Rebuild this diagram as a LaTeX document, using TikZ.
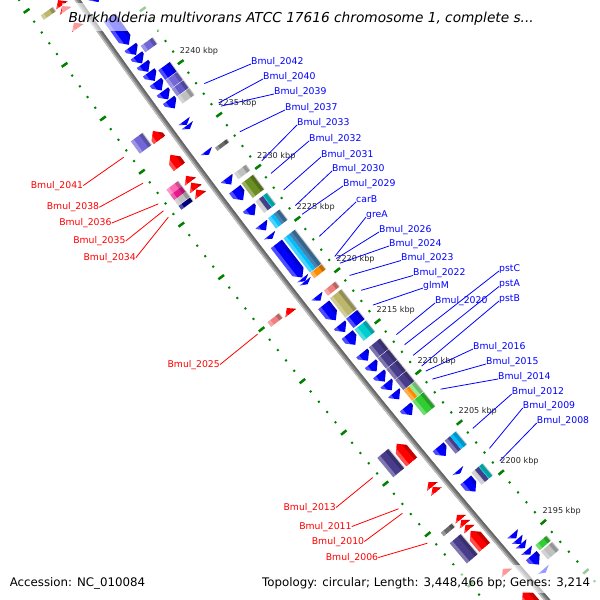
\documentclass[tikz,border=0pt]{standalone}
\usepackage{fontspec}
\newfontfamily\djv{DejaVu Sans}[ItalicFont={DejaVu Sans Oblique}]
\definecolor{rgreen}{RGB}{0,130,0}
\definecolor{slateA}{RGB}{115,103,215}
\definecolor{slateB}{RGB}{100,90,200}
\definecolor{slateD}{RGB}{72,61,139}
\definecolor{lgray}{RGB}{192,192,192}
\definecolor{dgray}{RGB}{105,105,105}
\definecolor{olived}{RGB}{107,142,35}
\definecolor{khakid}{RGB}{189,183,107}
\definecolor{orangeC}{RGB}{255,140,0}
\definecolor{coralL}{RGB}{240,128,128}
\definecolor{turq}{RGB}{0,206,209}
\definecolor{skyb}{RGB}{0,191,255}
\definecolor{steelb}{RGB}{70,130,180}
\definecolor{limeg}{RGB}{50,205,50}
\definecolor{lgreen}{RGB}{144,238,144}
\definecolor{hpink}{RGB}{255,105,180}
\definecolor{dpink}{RGB}{230,25,140}
\definecolor{navyC}{RGB}{0,0,128}
\definecolor{bbg}{RGB}{135,135,135}
% genome coordinate system: (g cs: kbp, radial offset in px from the labelled ruler)
\def\gmparse#1,#2\relax{%
  \pgfmathsetmacro\gms{13.0191+(#2)*0.0018221}%
  \pgfmathsetmacro\gmb{((#1)-2217.5)*\gms}%
  \pgfmathsetmacro\gmdel{\gmb/(7145+(#2))}%
  \pgfmathsetmacro\gma{(#2)-\gmb*\gmdel/2}%
  \pgfmathsetmacro\gmbb{\gmb*(1-\gmdel*\gmdel/6)}%
  \pgfmathsetmacro\gmx{357.33-0.785328*\gma-0.619080*\gmbb}%
  \pgfmathsetmacro\gmy{295.83+0.619080*\gma-0.785328*\gmbb}%
  \pgfpointxy{\gmx}{\gmy}}
\tikzdeclarecoordinatesystem{g}{\gmparse#1\relax}
\newcommand\gmband[5]{\fill[#5] (g cs:#1,#3) -- (g cs:#2,#3) -- (g cs:#2,#4) -- (g cs:#1,#4) -- cycle;}
\newcommand\gmshade[3]{%
  \fill[white,opacity=.3] (g cs:#1,#3+3.5) -- (g cs:#2,#3+3.5) -- (g cs:#2,#3+8) -- (g cs:#1,#3+8) -- cycle;
  \fill[black,opacity=.22] (g cs:#1,#3-8) -- (g cs:#2,#3-8) -- (g cs:#2,#3-3.5) -- (g cs:#1,#3-3.5) -- cycle;}
\newcommand\gmbox[4]{\gmband{#1}{#2}{#3-7}{#3+7}{#4}\gmshade{#1}{#2}{#3}}
\newcommand\gmsplit[5]{\gmband{#1}{#2}{#3}{#3+7}{#4}\gmband{#1}{#2}{#3-7}{#3}{#5}\gmshade{#1}{#2}{#3}}
\newcommand\gmtri[6]{\gmband{#1}{#2}{#3+2.4}{#3+7}{#4}\gmband{#1}{#2}{#3-2.4}{#3+2.4}{#5}\gmband{#1}{#2}{#3-7}{#3-2.4}{#6}\gmshade{#1}{#2}{#3}}
\newcommand\gmarrow[4]{%
  \pgfmathsetmacro\gmH{min(0.55,abs((#2)-(#1)))}%
  \pgfmathsetmacro\gmBk{(#2)-((#2)>(#1)?1:-1)*\gmH}%
  \begin{scope}
  \clip (g cs:#1,#3-7) -- (g cs:\gmBk,#3-7) -- (g cs:#2,#3) -- (g cs:\gmBk,#3+7) -- (g cs:#1,#3+7) -- cycle;
  \gmband{#1}{#2}{#3-8}{#3+8}{#4}\gmshade{#1}{#2}{#3}
  \end{scope}}
\tikzset{
  lblB/.style={font=\djv\fontsize{9.3}{11}\selectfont, text=blue, inner sep=0pt, anchor=base west},
  lblR/.style={font=\djv\fontsize{9.3}{11}\selectfont, text=red, inner sep=0pt, anchor=base east},
  kbpl/.style={font=\djv\fontsize{8.1}{10}\selectfont, text=black!85, inner sep=0pt, anchor=west},
  lnB/.style={draw=blue, line width=0.8pt},
  lnR/.style={draw=red, line width=0.8pt},
  info/.style={font=\djv\fontsize{11.8}{14}\selectfont, inner sep=0pt, anchor=base west},
  band/.style={fill=white, opacity=0.6}
}
\begin{document}
\begin{tikzpicture}[x=1pt,y=-1pt]
\useasboundingbox (0,0) rectangle (600,600);
\fill[white] (0,0) rectangle (600,600);
\begin{scope}
\clip (0,0) rectangle (600,600);
% rulers
\foreach \r in {0,96} {
  \foreach \k in {2180,...,2262} \draw[rgreen, line width=2pt] (g cs:\k,\r-1) -- (g cs:\k,\r+1);
  \foreach \k in {2180,2185,...,2260} \draw[rgreen, line width=2.5pt] (g cs:\k,\r-3.5) -- (g cs:\k,\r+3.5);
}
\foreach \k in {2195,2200,...,2240} \node[kbpl, xshift=-1pt, yshift=11pt] (k\k) at (g cs:\k,0) {\k\ kbp};
% backbone
\draw[line width=5pt, bbg] (g cs:2262,48) \foreach \k in {2258,2254,...,2178} {-- (g cs:\k,48)};
\draw[line width=1.6pt, black!60] (g cs:2262,46.4) \foreach \k in {2258,2254,...,2178} {-- (g cs:\k,46.4)};
\draw[line width=1.3pt, black!25] (g cs:2262,49.9) \foreach \k in {2258,2254,...,2178} {-- (g cs:\k,49.9)};
% reverse-strand COG boxes
\gmbox{2242.8}{2242.2}{16}{slateA}
\gmbox{2240.5}{2239.6}{16}{blue}
\gmbox{2239.55}{2238.8}{16}{slateA}
\gmbox{2238.75}{2238.05}{16}{slateB}
\gmbox{2238.0}{2237.35}{16}{lgray}
\gmbox{2233.15}{2232.85}{16}{dgray}
\gmbox{2230.7}{2230.15}{16}{lgray}
\gmbox{2229.75}{2228.35}{16}{olived}
\gmtri{2228.0}{2226.9}{16}{lgray}{slateD}{turq}
\gmsplit{2226.4}{2225.4}{16}{skyb}{steelb}
\gmsplit{2224.45}{2221.15}{16}{skyb}{steelb}
\gmbox{2221.1}{2220.6}{16}{orangeC}
\gmbox{2219.4}{2218.9}{16}{coralL}
\gmbox{2218.65}{2216.75}{16}{khakid}
\gmbox{2216.65}{2215.75}{16}{blue}
\gmbox{2215.6}{2214.5}{16}{turq}
\gmbox{2213.85}{2212.83}{16}{slateD}
\gmbox{2212.78}{2211.76}{16}{slateD}
\gmbox{2211.71}{2210.69}{16}{slateD}
\gmbox{2210.64}{2209.65}{16}{slateD}
\gmsplit{2209.6}{2208.6}{16}{orangeC}{lgreen}
\gmbox{2208.55}{2207.15}{16}{limeg}
\gmsplit{2204.65}{2203.35}{16}{slateD}{skyb}
\gmtri{2201.45}{2200.25}{16}{lgray}{slateD}{turq}
\gmbox{2194.05}{2193.55}{14}{limeg}
\gmbox{2193.4}{2192.6}{14}{lgray}
% reverse-strand genes
\gmarrow{2249.6}{2247.4}{32}{blue}
\gmarrow{2245.95}{2243.4}{32}{blue}
\gmarrow{2243.2}{2242.45}{32}{blue}
\gmarrow{2242.4}{2241.65}{32}{blue}
\gmarrow{2241.6}{2240.85}{32}{blue}
\gmarrow{2240.8}{2240.0}{32}{blue}
\gmarrow{2239.9}{2239.1}{32}{blue}
\gmarrow{2239.0}{2238.25}{32}{blue}
\gmarrow{2238.2}{2237.4}{32}{blue}
\gmarrow{2236.2}{2235.85}{32}{blue}
\gmarrow{2235.8}{2235.45}{32}{blue}
\gmarrow{2233.35}{2233.0}{32}{blue}
\gmarrow{2230.75}{2230.15}{32}{blue}
\gmarrow{2229.7}{2228.65}{32}{blue}
\gmarrow{2227.95}{2227.2}{32}{blue}
\gmarrow{2226.35}{2225.75}{32}{blue}
\gmarrow{2225.3}{2224.95}{32}{blue}
\gmarrow{2224.45}{2221.2}{32}{blue}
\gmarrow{2221.15}{2220.85}{32}{blue}
\gmarrow{2220.85}{2220.55}{32}{blue}
\gmarrow{2219.4}{2218.95}{32}{blue}
\gmarrow{2218.55}{2217.05}{32}{blue}
\gmarrow{2216.6}{2215.9}{32}{blue}
\gmarrow{2215.65}{2214.65}{32}{blue}
\gmarrow{2213.85}{2213.1}{32}{blue}
\gmarrow{2212.8}{2212.05}{32}{blue}
\gmarrow{2211.8}{2211.05}{32}{blue}
\gmarrow{2210.9}{2210.2}{32}{blue}
\gmarrow{2209.95}{2209.3}{32}{blue}
\gmarrow{2208.55}{2207.75}{32}{blue}
\gmarrow{2204.6}{2203.7}{32}{blue}
\gmarrow{2202.25}{2201.95}{32}{blue}
\gmarrow{2201.3}{2200.15}{32}{blue}
\gmarrow{2195.85}{2195.4}{31}{blue}
\gmarrow{2195.3}{2194.85}{31}{blue}
\gmarrow{2194.85}{2194.4}{31}{blue}
\gmarrow{2194.2}{2193.75}{31}{blue}
\gmarrow{2193.65}{2192.75}{31}{blue}
\gmarrow{2192.25}{2191.95}{31}{blue}
% forward-strand genes
\gmarrow{2248.3}{2248.75}{64}{red}
\gmarrow{2248.8}{2249.3}{64}{red}
\gmarrow{2246.7}{2247.2}{64}{red}
\gmarrow{2236.15}{2237.0}{63}{red}
\gmarrow{2233.6}{2234.75}{63}{red}
\gmarrow{2232.2}{2232.75}{63}{red}
\gmarrow{2231.5}{2232.1}{63}{red}
\gmarrow{2230.9}{2231.45}{63}{red}
\gmarrow{2219.6}{2220.1}{63}{red}
\gmarrow{2205.0}{2206.8}{62}{red}
\gmarrow{2202.55}{2203.0}{62}{red}
\gmarrow{2202.05}{2202.5}{62}{red}
\gmarrow{2199.25}{2199.7}{61}{red}
\gmarrow{2198.75}{2199.2}{61}{red}
\gmarrow{2198.25}{2198.7}{61}{red}
\gmarrow{2196.45}{2198.1}{61}{red}
\gmarrow{2193.85}{2194.3}{61}{red}
\gmarrow{2190.5}{2192.0}{61}{red}
% forward-strand COG boxes
\gmbox{2249.1}{2248.7}{80}{khakid}
\gmbox{2237.35}{2236.2}{80}{slateA}
\gmbox{2232.8}{2232.3}{80}{hpink}
\gmbox{2232.3}{2231.8}{80}{dpink}
\gmbox{2231.8}{2231.3}{80}{lgray}
\gmbox{2231.25}{2230.9}{80}{navyC}
\gmbox{2220.15}{2219.7}{80}{coralL}
\gmbox{2206.9}{2205.0}{79}{slateD}
\gmbox{2199.45}{2199.1}{78}{dgray}
\gmbox{2198.4}{2196.4}{78}{slateD}
\end{scope}
% blue labels
\foreach \nm/\k/\x/\y [count=\i] in {Bmul\_2042/2237.6/251/64, Bmul\_2040/2235.75/263/79, Bmul\_2039/2235.45/274/94,
  Bmul\_2037/2233.0/285/110, Bmul\_2033/2230.2/297/125, Bmul\_2032/2229.0/309/141, Bmul\_2031/2227.4/321/157,
  Bmul\_2030/2225.9/332/171, Bmul\_2029/2225.05/343/186, carB/2222.9/356/202, greA/2220.95/366/217,
  Bmul\_2026/2220.75/379/232, Bmul\_2024/2220.3/389/246, Bmul\_2023/2219.1/401/260.5, Bmul\_2022/2217.65/413/275.5,
  glmM/2216.2/423/288, Bmul\_2020/2213.3/435/303, pstC/2212.3/499/271, pstA/2211.25/499/286.5, pstB/2210.2/499/301,
  Bmul\_2016/2209.7/473/349, Bmul\_2015/2208.9/486/364, Bmul\_2014/2207.9/498/379, Bmul\_2012/2204.0/511.7/394,
  Bmul\_2009/2202.0/522.7/408, Bmul\_2008/2200.75/536.7/423} {
  \coordinate (pb\i) at (g cs:\k,-6.5);
  \node[lblB] (lb\i) at (\x,\y) {\nm};
  \draw[lnB] (pb\i) -- (lb\i.base west);
}
% red labels
\foreach \nm/\k/\x/\y [count=\i] in {Bmul\_2041/2236.7/83.3/188, Bmul\_2038/2234.25/99.3/209.7, Bmul\_2036/2232.3/111.7/225.5,
  Bmul\_2035/2231.65/125.7/243.5, Bmul\_2034/2231.04/136/260, Bmul\_2025/2219.9/220/367, Bmul\_2013/2205.97/336/510,
  Bmul\_2011/2202.9/351.7/529, Bmul\_2010/2202.45/364.3/544, Bmul\_2006/2199.5/378.3/560} {
  \coordinate (pr\i) at (g cs:\k,102);
  \node[lblR] (lr\i) at (\x,\y) {\nm};
  \draw[lnR] (pr\i) -- (lr\i.east);
}
% title and info
\fill[band] (62,3) rectangle (540,31);
\fill[band] (4,565) rectangle (596,593);
\node[info, font=\djv\itshape\fontsize{13.7}{16}\selectfont] (title) at (68.3,22.7) {Burkholderia multivorans ATCC 17616 chromosome 1, complete s...};
\node[info] (acc) at (9.6,586.5) {Accession: NC\_010084};
\node[info] (topo) at (262,586.5) {Topology: circular; Length: 3,448,466 bp; Genes: 3,214};
\end{tikzpicture}
\end{document}
